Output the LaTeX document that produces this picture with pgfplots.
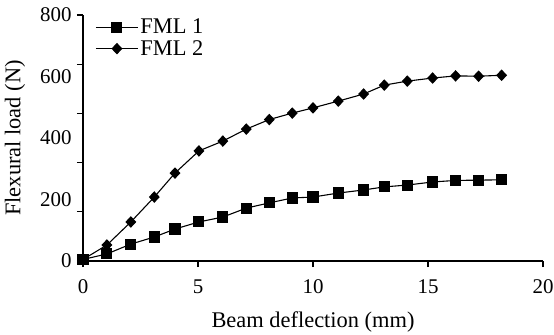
\documentclass[border=0pt]{standalone}
\usepackage{pgfplots}
\pgfplotsset{compat=1.18}
\usepackage{fontspec}
\setmainfont{Liberation Serif}
\newcommand\chartfont{\fontsize{22.5}{26}\selectfont}
\newcommand\tickfont{\fontsize{21}{24}\selectfont}
\begin{document}
\begin{tikzpicture}
\useasboundingbox (-83bp,-74bp) rectangle (471bp,261bp);
\begin{axis}[
  at={(0,0)}, anchor=south west,
  scale only axis, width=460bp, height=246bp,
  xmin=0, xmax=20, ymin=0, ymax=800,
  axis x line*=bottom, axis y line*=left,
  axis line style={line width=1.4pt},
  tick align=outside, major tick length=6bp,
  tick style={line width=1.4pt, black},
  xtick={0,5,10,15,20},
  ytick={0,160,320,480,640,800}, yticklabels={},
  extra y ticks={0,200,400,600,800},
  extra y tick style={major tick length=0pt},
  extra y tick labels={0,200,400,600,800},
  /pgf/number format/assume math mode=true,
  every tick label/.append style={font=\tickfont},
  every axis label/.append style={font=\chartfont},
  xticklabel style={yshift=-9bp},
  yticklabel style={xshift=-8bp},
  xlabel={Beam deflection (mm)},
  ylabel={Flexural load (N)},
  xlabel style={yshift=-11bp},
  ylabel style={yshift=2bp},
  clip=false,
  legend style={draw=none, fill=none, at={(0.02,1.0)}, anchor=north west, font=\chartfont, row sep=1bp,
    nodes={inner xsep=2bp}},
  legend cell align=left,
  legend image code/.code={
    \draw[#1, mark repeat=2, mark phase=2] plot coordinates {(0bp,0bp) (21bp,0bp) (42bp,0bp)};
  },
]
\addplot[black, line width=1.1pt, mark=square*, mark size=5bp, mark options={solid}] coordinates {
(0,5) (1.04,23) (2.08,55) (3.1,78) (4.0,104) (5.04,127) (6.08,143) (7.1,172) (8.1,189)
(9.1,205) (10.0,208) (11.1,221) (12.2,231) (13.1,241) (14.1,247) (15.2,257) (16.2,262) (17.2,263) (18.2,264)
};
\addlegendentry{FML 1}
\addplot[black, line width=1.1pt, mark=diamond*, mark size=5bp, mark options={solid, xscale=1.25}] coordinates {
(0,5) (1.04,52) (2.08,127) (3.1,208) (4.0,286) (5.04,358) (6.08,390) (7.1,429) (8.1,460)
(9.1,481) (10.0,498) (11.1,520) (12.2,543) (13.1,572) (14.1,585) (15.2,595) (16.2,602) (17.2,601) (18.2,604)
};
\addlegendentry{FML 2}
\end{axis}
\end{tikzpicture}
\end{document}
